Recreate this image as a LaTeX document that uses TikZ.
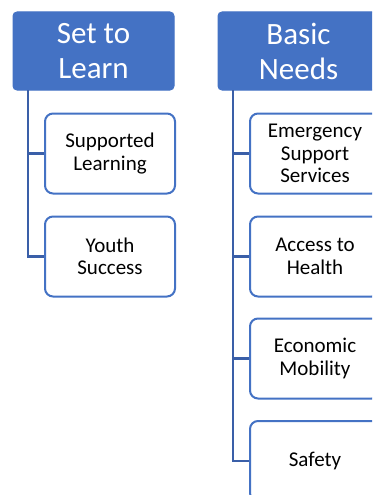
\documentclass[tikz,border=0pt]{standalone}
\usepackage{fontspec}
\setmainfont{Carlito}
\definecolor{hdr}{HTML}{4472C4}
\definecolor{conn}{HTML}{3A5FA8}
\begin{document}
\begin{tikzpicture}[x=1pt,y=-1pt,
  hdrbox/.style={draw=hdr,fill=hdr,rounded corners=4pt,minimum width=161pt,minimum height=78pt,
    text=white,align=center,font=\fontsize{31}{35}\selectfont,inner sep=0pt,line width=1pt},
  child/.style={draw=hdr,fill=white,rounded corners=8pt,minimum width=130pt,minimum height=80pt,
    align=center,font=\fontsize{21}{22.5}\selectfont,inner sep=0pt,line width=2pt},
  connline/.style={draw=conn,line width=2.2pt}]
\useasboundingbox (0,0) rectangle (372,495);
\clip (0,0) rectangle (372,495);
\node[hdrbox] (ha) at (93.5,51) {Set to\\Learn};
\node[hdrbox] (hb) at (298.5,51) {Basic\\Needs};
\coordinate (a0) at (28,90);
\coordinate (b0) at (233,90);
\node[child] (sl) at (110,153.5) {Supported\\Learning};
\node[child] (ys) at (110,256.5) {Youth\\Success};
\node[child] (es) at (315,153.5) {Emergency\\Support\\Services};
\node[child] (ah) at (315,256.5) {Access to\\Health};
\node[child] (em) at (315,358.5) {Economic\\Mobility};
\node[child] (sf) at (315,461) {Safety};
\draw[connline] (a0) |- (sl.west);
\draw[connline] (a0) |- (ys.west);
\draw[connline] (b0) |- (es.west);
\draw[connline] (b0) |- (ah.west);
\draw[connline] (b0) |- (em.west);
\draw[connline] (b0) |- (sf.west);
\end{tikzpicture}
\end{document}
